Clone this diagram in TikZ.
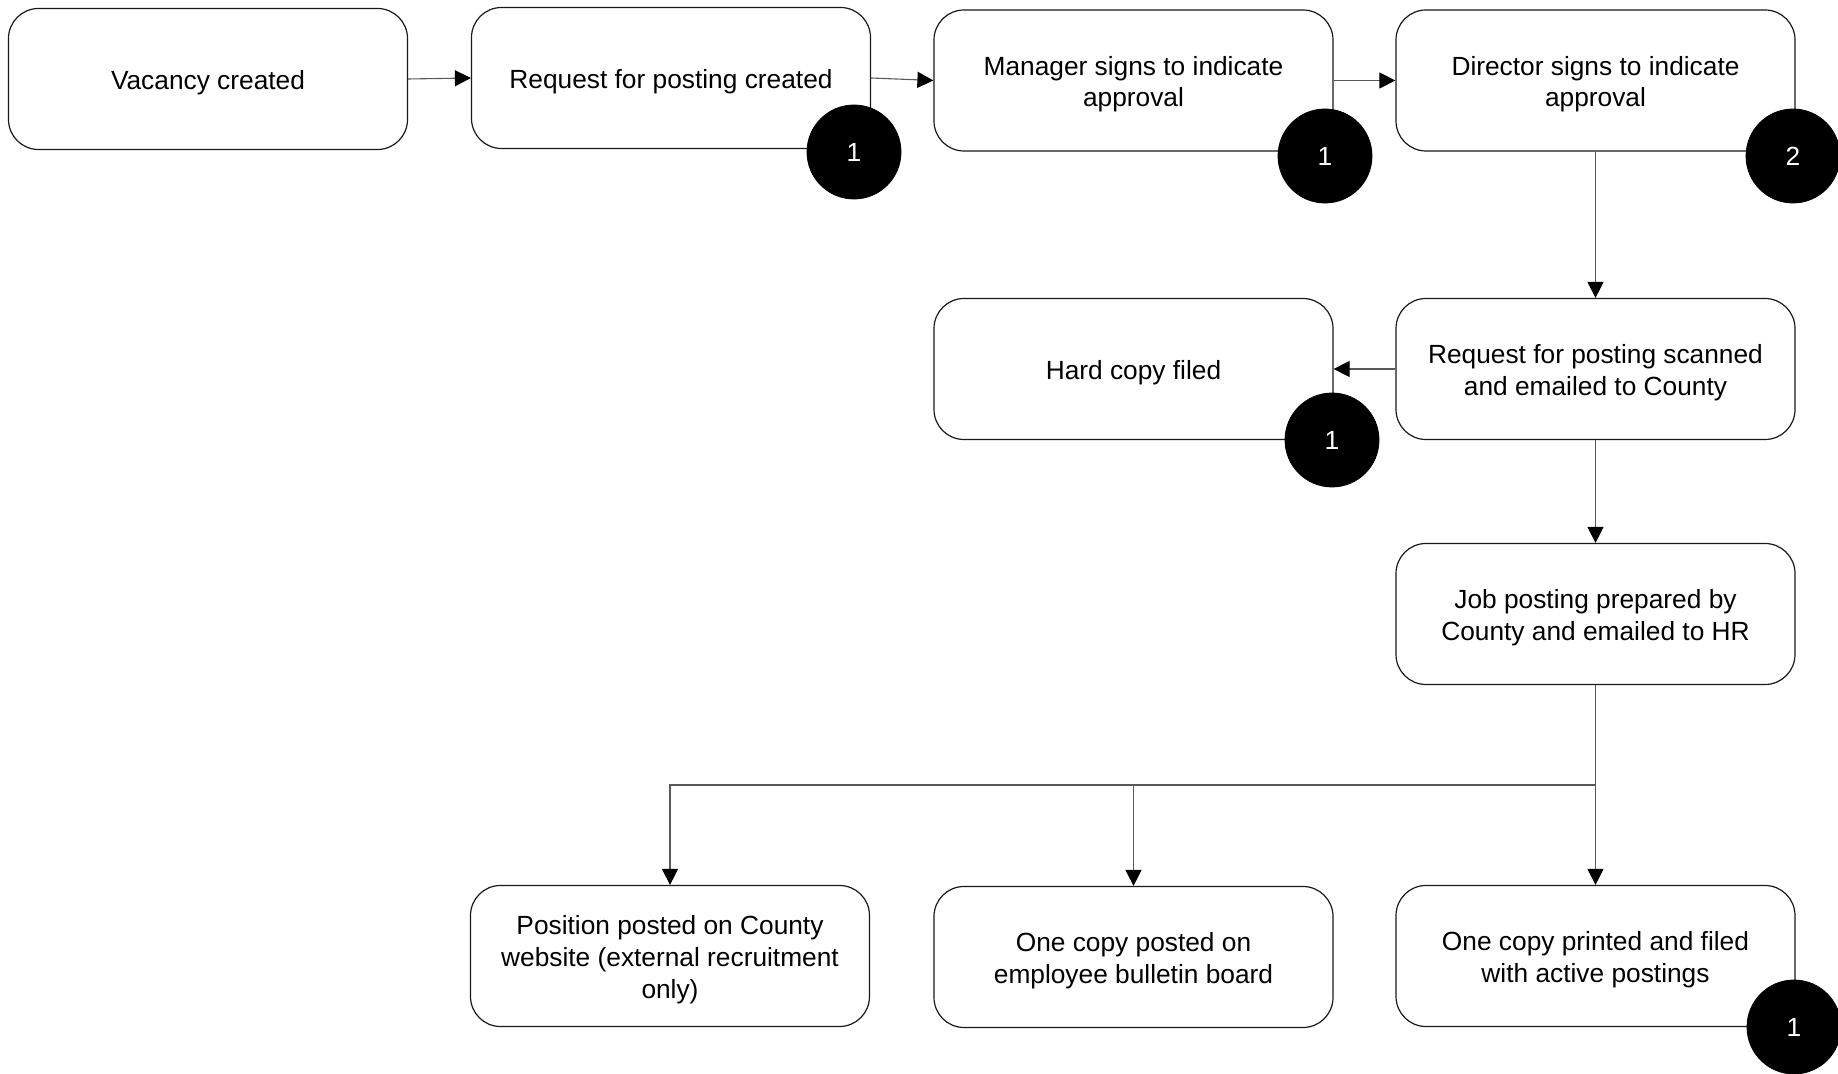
\documentclass[tikz,border=0pt]{standalone}
\usepackage{fontspec}
\setmainfont{Liberation Sans}
\usetikzlibrary{arrows.meta}
\tikzset{
  box/.style={draw=black!90, line width=0.6pt, rounded corners=15pt, minimum width=199.5pt, minimum height=70.5pt, inner sep=0pt},
  boxtext/.style={align=center, inner sep=0pt, yshift=-1.8pt, font=\fontsize{13.15}{15.8}\selectfont},
  badge/.style={circle, fill=black, draw=black, minimum size=47pt, inner sep=0pt, text=white, font=\fontsize{13.15}{15.8}\selectfont},
  conn/.style={draw=black!65, line width=0.55pt, -{Triangle[length=8pt,width=8pt,color=black]}}
}
\begin{document}
\begin{tikzpicture}[x=0.5pt,y=-0.5pt]
\useasboundingbox[fill=white] (0,0) rectangle (1838,1074);
\node[box, label={[boxtext]center:Vacancy created}] (b1) at (208,79) {};
\node[box, label={[boxtext]center:Request for posting created}] (b2) at (671,78) {};
\node[box, label={[boxtext]center:Manager signs to indicate\\approval}] (b3) at (1133.5,80.5) {};
\node[box, label={[boxtext]center:Director signs to indicate\\approval}] (b4) at (1595.5,80.5) {};
\node[box, label={[boxtext]center:Hard copy filed}] (hard) at (1133.5,369) {};
\node[box, label={[boxtext]center:Request for posting scanned\\and emailed to County}] (scan) at (1595.5,369) {};
\node[box, label={[boxtext]center:Job posting prepared by\\County and emailed to HR}] (job) at (1595.5,614) {};
\node[box, label={[boxtext]center:Position posted on County\\website (external recruitment\\only)}] (pos) at (670,956) {};
\node[box, label={[boxtext]center:One copy posted on\\employee bulletin board}] (post) at (1133.5,957) {};
\node[box, label={[boxtext]center:One copy printed and filed\\with active postings}] (print) at (1595.5,956) {};

\draw[conn] (b1.east) -- (b2.west);
\draw[conn] (b2.east) -- (b3.west);
\draw[conn] (b3.east) -- (b4.west);
\draw[conn] (b4.south) -- (scan.north);
\draw[conn] (scan.west) -- (hard.east);
\draw[conn] (scan.south) -- (job.north);
\coordinate (j) at (1595.5,785);
\draw[conn] (job.south) -- (j) -| (pos.north);
\draw[conn] (job.south) -- (j) -| (post.north);
\draw[conn] (job.south) -- (print.north);

\node[badge] (c1) at (854,152) {1};
\node[badge] (c2) at (1325,156) {1};
\node[badge] (c3) at (1793,156) {2};
\node[badge] (c4) at (1332,440) {1};
\node[badge] (c5) at (1794,1027) {1};
\end{tikzpicture}
\end{document}
